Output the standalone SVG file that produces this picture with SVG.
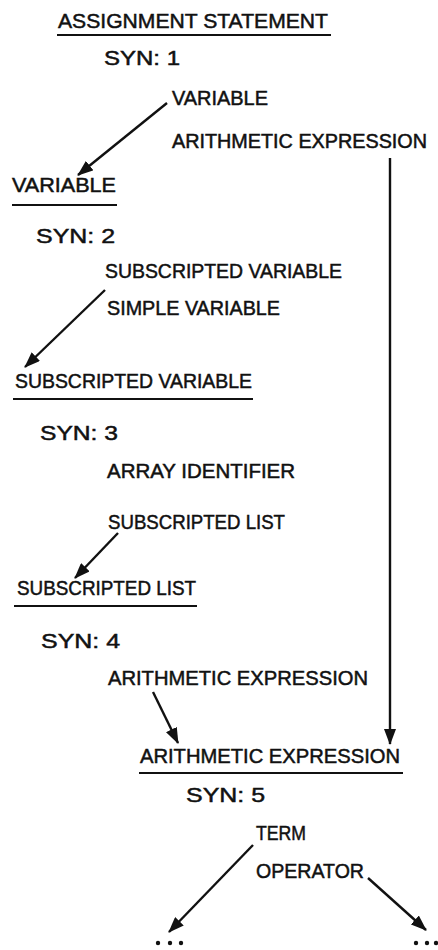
<svg xmlns="http://www.w3.org/2000/svg" width="438" height="950" viewBox="0 0 438 950">
  <style>
    text { font-family: "Liberation Sans", Arial, sans-serif; font-size: 21px; fill: #111; stroke: #111; stroke-width: 0.5; }
    text.tight { font-size: 19.5px; }
    .rule { stroke: #111; stroke-width: 2; }
    .link { stroke: #111; stroke-width: 2.4; fill: none; marker-end: url(#head); }
    .dot { fill: #111; }
  </style>
  <defs>
    <marker id="head" viewBox="0 0 16 12" refX="15" refY="6" markerWidth="16" markerHeight="12" orient="auto" markerUnits="userSpaceOnUse">
      <path d="M0,0 L16,6 L0,12 Z" fill="#111"/>
    </marker>
  </defs>
  <rect width="438" height="950" fill="#fff"/>

  <g id="n1-assignment-statement">
    <text x="58" y="28" textLength="270" lengthAdjust="spacingAndGlyphs">ASSIGNMENT STATEMENT</text>
    <line class="rule" x1="57" y1="35" x2="331" y2="35"/>
    <text x="104" y="65" textLength="76" lengthAdjust="spacingAndGlyphs">SYN:  1</text>
    <text x="172" y="105" textLength="96" lengthAdjust="spacingAndGlyphs">VARIABLE</text>
    <text class="tight" x="172" y="148" textLength="255" lengthAdjust="spacingAndGlyphs">ARITHMETIC EXPRESSION</text>
  </g>

  <g id="n2-variable">
    <text x="12" y="192" textLength="104" lengthAdjust="spacingAndGlyphs">VARIABLE</text>
    <line class="rule" x1="12" y1="205" x2="117" y2="205"/>
    <text x="36" y="243" textLength="79" lengthAdjust="spacingAndGlyphs">SYN:  2</text>
    <text x="105" y="278" textLength="237" lengthAdjust="spacingAndGlyphs">SUBSCRIPTED VARIABLE</text>
    <text x="107" y="315" textLength="173" lengthAdjust="spacingAndGlyphs">SIMPLE VARIABLE</text>
  </g>

  <g id="n3-subscripted-variable">
    <text x="15" y="388" textLength="237" lengthAdjust="spacingAndGlyphs">SUBSCRIPTED VARIABLE</text>
    <line class="rule" x1="13" y1="399" x2="253" y2="399"/>
    <text x="40" y="440" textLength="78" lengthAdjust="spacingAndGlyphs">SYN:  3</text>
    <text x="107" y="478" textLength="188" lengthAdjust="spacingAndGlyphs">ARRAY IDENTIFIER</text>
    <text x="108" y="529" textLength="177" lengthAdjust="spacingAndGlyphs">SUBSCRIPTED LIST</text>
  </g>

  <g id="n4-subscripted-list">
    <text x="17" y="595" textLength="179" lengthAdjust="spacingAndGlyphs">SUBSCRIPTED LIST</text>
    <line class="rule" x1="14" y1="606" x2="197" y2="606"/>
    <text x="41" y="648" textLength="79" lengthAdjust="spacingAndGlyphs">SYN:  4</text>
    <text x="108" y="685" textLength="260" lengthAdjust="spacingAndGlyphs">ARITHMETIC EXPRESSION</text>
  </g>

  <g id="n5-arithmetic-expression">
    <text x="140" y="763" textLength="260" lengthAdjust="spacingAndGlyphs">ARITHMETIC EXPRESSION</text>
    <line class="rule" x1="139" y1="773" x2="403" y2="773"/>
    <text x="186" y="802" textLength="79" lengthAdjust="spacingAndGlyphs">SYN:  5</text>
    <text x="256" y="840" textLength="50" lengthAdjust="spacingAndGlyphs">TERM</text>
    <text x="256" y="878" textLength="108" lengthAdjust="spacingAndGlyphs">OPERATOR</text>
  </g>

  <g id="n6-ellipsis-left">
    <circle class="dot" cx="158" cy="943" r="2.2"/>
    <circle class="dot" cx="170" cy="943" r="2.2"/>
    <circle class="dot" cx="181" cy="943" r="2.2"/>
  </g>
  <g id="n7-ellipsis-right">
    <circle class="dot" cx="416" cy="943" r="2.2"/>
    <circle class="dot" cx="427" cy="943" r="2.2"/>
    <circle class="dot" cx="436" cy="943" r="2.2"/>
  </g>

  <g id="connectors">
    <line class="link" x1="167" y1="103" x2="78" y2="175"/>
    <line class="link" x1="390" y1="158" x2="390" y2="744"/>
    <line class="link" x1="105" y1="290" x2="25" y2="367"/>
    <line class="link" x1="118" y1="533" x2="75" y2="578"/>
    <line class="link" x1="153" y1="692" x2="178" y2="743"/>
    <line class="link" x1="253" y1="845" x2="169" y2="932"/>
    <line class="link" x1="368" y1="878" x2="426" y2="930"/>
  </g>
</svg>
